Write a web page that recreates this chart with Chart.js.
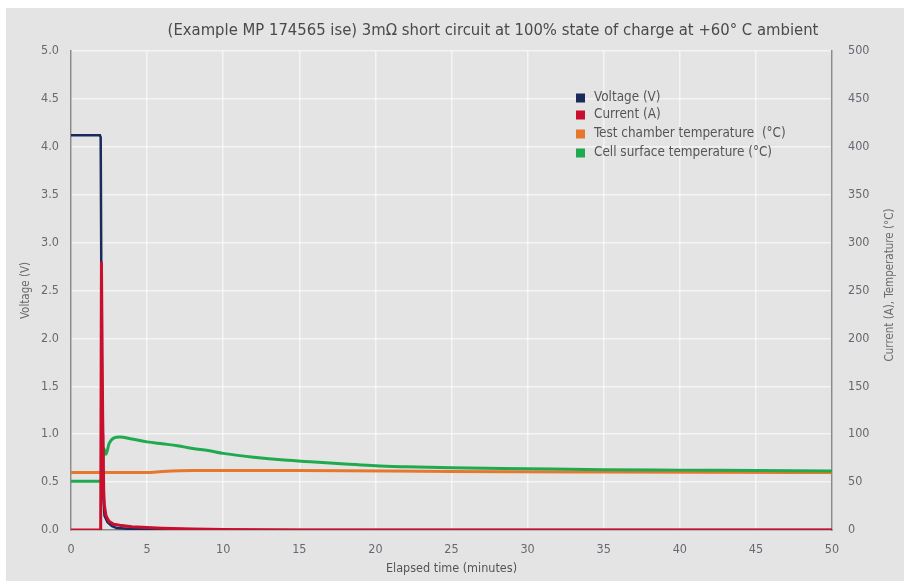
<!DOCTYPE html>
<html>
<head>
<meta charset="utf-8">
<script src="https://cdn.jsdelivr.net/npm/chart.js@4/dist/chart.umd.min.js"></script>
<style>
  html, body { margin: 0; padding: 0; background: #fff; }
  #wrap { width: 912px; height: 587px; }
</style>
</head>
<body>
<div id="wrap"><canvas id="myChart" width="912" height="587"></canvas></div>
<script>
'use strict';
// values
let titleText = '(Example MP 174565 ise) 3m\u03A9 short circuit at 100% state of charge at +60\u00B0 C ambient';
let seriesNames = ['Voltage (V)', 'Current (A)', 'Test chamber temperature  (\u00B0C)', 'Cell surface temperature (\u00B0C)'];
let seriesColors = ['#1b2a5c', '#c8102e', '#e8772e', '#1faa4f'];

let voltTime = [0, 1.9, 1.95, 2.0, 2.05, 2.1, 2.2, 2.4, 2.7, 3, 4, 6, 50];
let voltValues = [4.12, 4.12, 4.1, 2.4, 1.0, 0.4, 0.15, 0.08, 0.04, 0.02, 0.01, 0, 0];

let currentTime = [0, 1.95, 2.0, 2.08, 2.15, 2.2, 2.3, 2.5, 2.8, 3.2, 4, 5, 6, 8, 10, 15, 50];
let currentValues = [0, 0, 280, 120, 40, 25, 15, 9, 6, 5, 3.5, 2.5, 1.8, 1, 0.5, 0, 0];

let chamberTime = [0, 5, 6, 8, 15, 25, 35, 50];
let chamberValues = [60, 60, 61, 62, 62, 61, 60.5, 60];

let cellTime = [0, 1.9, 2.05, 2.15, 2.3, 2.5, 2.8, 3.2, 4, 5, 6, 7, 8, 9, 10, 12, 14, 16, 18, 20, 22, 25, 30, 35, 40, 45, 50];
let cellValues = [51, 51, 58, 85, 79, 90, 96, 97, 95, 92, 90, 88, 85, 83, 80, 76, 73, 71, 69, 67, 66, 65, 64, 63, 62.5, 62, 61.5];

let xTicksStep = 5;
let leftTitle = 'Voltage (V)';
let rightTitle = 'Current (A), Temperature (\u00B0C)';
let xTitle = 'Elapsed time (minutes)';

let fontFam = '"Liberation Sans Narrow", "DejaVu Sans Condensed", "Roboto", sans-serif';
let gridCol = 'rgba(255,255,255,0.6)';

function toPoints(xs, ys) {
  let pts = [];
  for (let i = 0; i < xs.length; i++) {
    pts.push({ x: xs[i], y: ys[i] });
  }
  return pts;
}

let panelPlugin = {
  id: 'panel',
  beforeDraw(chart) {
    let ctx = chart.ctx;
    ctx.save();
    ctx.fillStyle = '#ffffff';
    ctx.fillRect(0, 0, chart.width, chart.height);
    ctx.fillStyle = '#e4e4e4';
    ctx.fillRect(6, 8, 898, 573);
    ctx.restore();
  },
  afterDraw(chart) {
    let ctx = chart.ctx;
    ctx.save();
    // title
    ctx.fillStyle = '#4a4a4a';
    ctx.font = '16.5px ' + fontFam;
    ctx.textAlign = 'center';
    ctx.textBaseline = 'middle';
    ctx.fillText(titleText, 493, 31);
    // legend
    ctx.font = '13.4px ' + fontFam;
    ctx.textAlign = 'left';
    let rows = [98, 115, 134, 153];
    for (let i = 0; i < seriesNames.length; i++) {
      ctx.fillStyle = seriesColors[i];
      ctx.fillRect(576, rows[i] - 4.5, 9, 9);
      ctx.fillStyle = '#555555';
      ctx.fillText(seriesNames[i], 594, rows[i]);
    }
    // right axis title, reads bottom to top
    ctx.translate(890, 285);
    ctx.rotate(-Math.PI / 2);
    ctx.textAlign = 'center';
    ctx.fillStyle = '#6a6a6a';
    ctx.font = '11.5px ' + fontFam;
    ctx.fillText(rightTitle, 0, 0);
    ctx.restore();
  }
};

let ctx = document.getElementById('myChart').getContext('2d');
let myChart = new Chart(ctx, {
  type: 'line',
  data: {
    datasets: [
      {
        label: seriesNames[1],
        data: toPoints(currentTime, currentValues),
        yAxisID: 'y2',
        borderColor: seriesColors[1],
        borderWidth: 3,
        order: 1
      },
      {
        label: seriesNames[0],
        data: toPoints(voltTime, voltValues),
        yAxisID: 'y',
        borderColor: seriesColors[0],
        borderWidth: 2.5,
        order: 2
      },
      {
        label: seriesNames[3],
        data: toPoints(cellTime, cellValues),
        yAxisID: 'y2',
        borderColor: seriesColors[3],
        borderWidth: 3,
        cubicInterpolationMode: 'monotone',
        order: 3
      },
      {
        label: seriesNames[2],
        data: toPoints(chamberTime, chamberValues),
        yAxisID: 'y2',
        borderColor: seriesColors[2],
        borderWidth: 3,
        cubicInterpolationMode: 'monotone',
        order: 4
      }
    ]
  },
  options: {
    responsive: false,
    animation: false,
    parsing: false,
    elements: { point: { radius: 0 }, line: { tension: 0 } },
    layout: { padding: { top: 51, right: 0, bottom: 0, left: 0 } },
    plugins: {
      legend: { display: false },
      title: { display: false },
      tooltip: { enabled: false }
    },
    scales: {
      x: {
        type: 'linear',
        min: 0,
        max: 50,
        afterFit: function (scale) { scale.height = 57; },
        ticks: {
          stepSize: xTicksStep,
          padding: 12,
          color: '#6b6670',
          font: { family: fontFam, size: 12.5 }
        },
        grid: { color: gridCol, lineWidth: 1.5, drawTicks: false },
        border: { display: true, color: '#8a8a8a', width: 1.5 },
        title: {
          display: true,
          text: xTitle,
          color: '#555555',
          font: { family: fontFam, size: 12.5 },
          padding: { top: 0, bottom: 11 }
        }
      },
      y: {
        position: 'left',
        min: 0,
        max: 5,
        afterFit: function (scale) { scale.width = 71; },
        ticks: {
          stepSize: 0.5,
          padding: 12,
          color: '#6b6670',
          font: { family: fontFam, size: 12.5 },
          callback: function (v) { return v.toFixed(1); }
        },
        grid: { color: gridCol, lineWidth: 1.5, drawTicks: false },
        border: { display: true, color: '#8a8a8a', width: 1.5 },
        title: {
          display: true,
          text: leftTitle,
          color: '#6a6a6a',
          font: { family: fontFam, size: 11.5 },
          padding: { top: 19, bottom: 0 }
        }
      },
      y2: {
        position: 'right',
        min: 0,
        max: 500,
        afterFit: function (scale) { scale.width = 80; },
        ticks: {
          stepSize: 50,
          padding: 16,
          color: '#6b6670',
          font: { family: fontFam, size: 12.5 }
        },
        grid: { display: false, drawTicks: false },
        border: { display: true, color: '#8a8a8a', width: 1.5 }
      }
    }
  },
  plugins: [panelPlugin]
});
</script>
</body>
</html>
